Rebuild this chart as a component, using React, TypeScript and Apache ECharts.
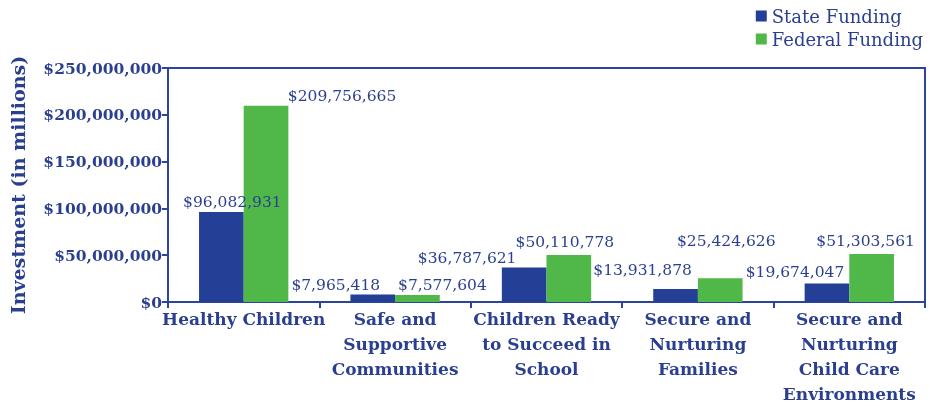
import React, { useEffect, useRef } from "react";
import * as echarts from "echarts";

const categories = [
  "Healthy Children",
  "Safe and\nSupportive\nCommunities",
  "Children Ready\nto Succeed in\nSchool",
  "Secure and\nNurturing\nFamilies",
  "Secure and\nNurturing\nChild Care\nEnvironments",
];
const stateFunding = [96082931, 7965418, 36787621, 13931878, 19674047];
const federalFunding = [209756665, 7577604, 50110778, 25424626, 51303561];
const yTicks = [0, 50000000, 100000000, 150000000, 200000000, 250000000];

// label offsets (style only)
const stateLabelOffsets = [[11, 0], [-37, 0], [-57, 0], [-33, -9], [-32, -2]];
const federalLabelOffsets = [[76, 0], [25, 0], [-4, -3], [6, -27], [-6, -3]];

const TEXT = "#2b3f91";
const LINE = "#2a44a0";
const BLUE = "#233f96";
const GREEN = "#4fb848";
const SERIF = "'DejaVu Serif', serif";

const fmt = (v: number) => "$" + v.toLocaleString("en-US");

export default function App() {
  const ref = useRef<HTMLDivElement>(null);
  useEffect(() => {
    if (!ref.current) return;
    const chart = echarts.init(ref.current, null, { renderer: "svg" });
    const mk = (vals: number[], offs: number[][]) =>
      vals.map((v, i) => ({ value: v, label: { offset: offs[i] } }));
    const dataLabel = {
      show: true,
      position: "top",
      distance: 2,
      fontFamily: SERIF,
      fontSize: 15.5,
      color: TEXT,
      formatter: (p: any) => fmt(p.value),
    };
    chart.setOption({
      animation: false,
      textStyle: { fontFamily: SERIF },
      legend: {
        orient: "vertical",
        right: 2,
        top: 2,
        itemWidth: 11,
        itemHeight: 11,
        itemGap: 5,
        icon: "rect",
        textStyle: { fontFamily: SERIF, fontSize: 18, color: TEXT },
        data: ["State Funding", "Federal Funding"],
      },
      grid: {
        left: 168,
        right: 5,
        top: 68,
        bottom: 98,
        show: true,
        borderColor: LINE,
        borderWidth: 2,
        containLabel: false,
      },
      xAxis: {
        type: "category",
        data: categories,
        axisLine: { lineStyle: { color: LINE, width: 2 } },
        axisTick: { show: true, length: 6, lineStyle: { color: LINE, width: 2 } },
        axisLabel: {
          interval: 0,
          margin: 4,
          fontFamily: SERIF,
          fontWeight: "bold",
          fontSize: 17,
          lineHeight: 25,
          color: TEXT,
        },
      },
      yAxis: {
        type: "value",
        min: 0,
        max: 250000000,
        interval: 50000000,
        name: "Investment (in millions)",
        nameLocation: "middle",
        nameGap: 141,
        nameTextStyle: { fontFamily: SERIF, fontWeight: "bold", fontSize: 19, color: TEXT },
        axisLine: { show: true, lineStyle: { color: LINE, width: 2 } },
        axisTick: { show: true, length: 6, lineStyle: { color: LINE, width: 2 } },
        splitLine: { show: false },
        axisLabel: {
          margin: 6,
          fontFamily: SERIF,
          fontWeight: "bold",
          fontSize: 15.5,
          color: TEXT,
          formatter: (v: number) => (yTicks.includes(v) ? fmt(v) : ""),
        },
      },
      series: [
        {
          name: "State Funding",
          type: "bar",
          data: mk(stateFunding, stateLabelOffsets),
          itemStyle: { color: BLUE },
          barGap: "0%",
          barCategoryGap: "41%",
          label: dataLabel,
        },
        {
          name: "Federal Funding",
          type: "bar",
          data: mk(federalFunding, federalLabelOffsets),
          itemStyle: { color: GREEN },
          barGap: "0%",
          barCategoryGap: "41%",
          label: dataLabel,
        },
      ],
    });
    return () => chart.dispose();
  }, []);
  return (
    <div
      ref={ref}
      style={{ position: "fixed", left: 0, top: 0, width: 930, height: 406 }}
    />
  );
}
